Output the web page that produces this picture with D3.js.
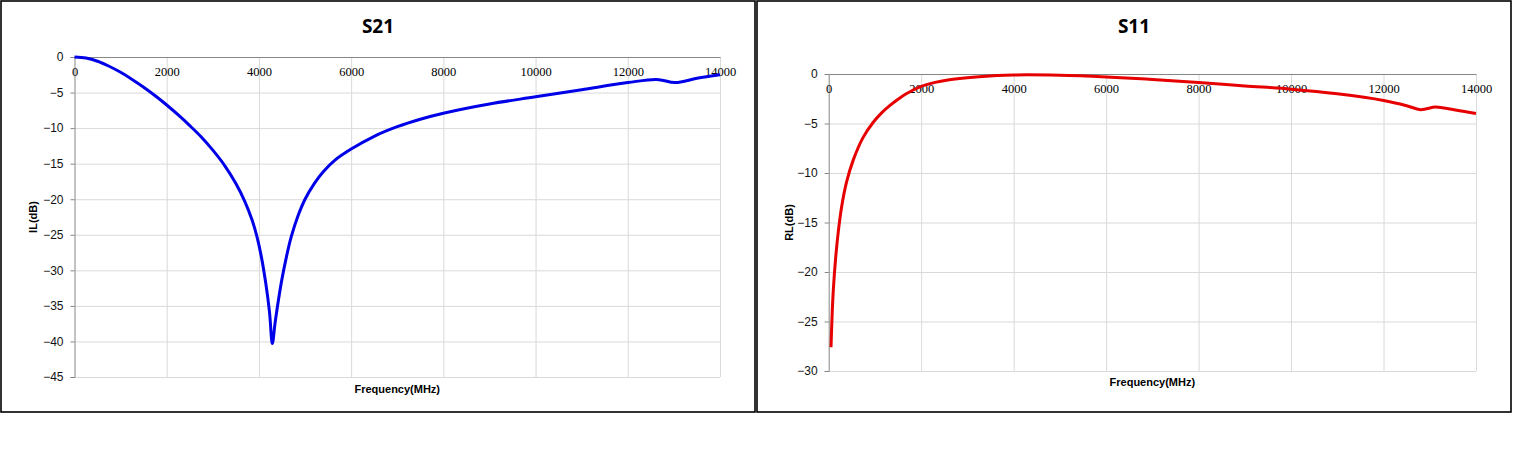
<!DOCTYPE html>
<html>
<head>
<meta charset="utf-8">
<script src="https://cdn.jsdelivr.net/npm/d3@7"></script>
<style>
  html, body { margin: 0; padding: 0; background: #fff; }
  svg { display: block; }
</style>
</head>
<body>
<svg id="chart" width="1513" height="460"></svg>
<script>
// ---- Data ----
const xTicks = [0, 2000, 4000, 6000, 8000, 10000, 12000, 14000];

const freqS21 = [0, 250, 500, 750, 1000, 1250, 1500, 1750, 2000, 2250, 2500, 2750, 3000, 3250, 3500, 3700, 3850, 3950, 4050, 4150, 4230, 4291, 4350, 4420, 4500, 4600, 4700, 4850, 5000, 5200, 5400, 5650, 6000, 6500, 7000, 7500, 8000, 9000, 10000, 11000, 12000, 12630, 13025, 13500, 14000];
const ilS21   = [0, -0.15, -0.6, -1.3, -2.15, -3.15, -4.25, -5.45, -6.75, -8.15, -9.65, -11.25, -13.1, -15.2, -17.8, -20.4, -22.9, -25.1, -28.0, -31.9, -35.9, -40.3, -37.4, -34.3, -31.2, -28.0, -25.3, -22.3, -20.0, -17.8, -16.1, -14.5, -12.95, -11.15, -9.8, -8.75, -7.9, -6.6, -5.6, -4.6, -3.6, -3.15, -3.6, -3.0, -2.5];
const yTicksS21 = [0, -5, -10, -15, -20, -25, -30, -35, -40, -45];

const freqS11 = [50, 75, 100, 150, 208, 280, 387, 530, 745, 960, 1150, 1319, 1500, 1677, 2000, 2300, 2610, 3254, 4000, 5000, 6000, 7000, 8000, 9000, 10000, 11000, 12000, 12500, 12800, 13120, 13300, 14000];
const rlS11   = [-27.6, -24.2, -21.8, -18.6, -15.9, -13.4, -10.9, -8.7, -6.4, -4.9, -3.9, -3.2, -2.55, -2.0, -1.25, -0.85, -0.57, -0.27, -0.1, -0.13, -0.3, -0.55, -0.85, -1.2, -1.53, -2.0, -2.67, -3.2, -3.6, -3.33, -3.43, -4.0];
const yTicksS11 = [0, -5, -10, -15, -20, -25, -30];

const titles = ["S21", "S11"];
const yLabels = ["IL(dB)", "RL(dB)"];
const xLabel = "Frequency(MHz)";

// ---- Layout ----
const svg = d3.select("#chart");
svg.append("rect").attr("width", 1513).attr("height", 460).attr("fill", "#fff");

const panels = [
  { px: 0, title: titles[0], ylab: yLabels[0], xs: freqS21, ys: ilS21, yTicks: yTicksS21,
    yDomain: [-45, 0], left: 74.5, right: 720, top: 57, bottom: 377, color: "#0000e8",
    yLabX: 37, xLabY: 393 },
  { px: 756, title: titles[1], ylab: yLabels[1], xs: freqS11, ys: rlS11, yTicks: yTicksS11,
    yDomain: [-30, 0], left: 828.7, right: 1476, top: 74, bottom: 371, color: "#e60000",
    yLabX: 793, xLabY: 386 }
];

panels.forEach(p => {
  // panel border
  svg.append("rect")
    .attr("x", p.px + 1).attr("y", 1).attr("width", 754).attr("height", 411)
    .attr("fill", "none").attr("stroke", "#000").attr("stroke-width", 1.6);

  const x = d3.scaleLinear().domain([0, 14000]).range([p.left, p.right]);
  const y = d3.scaleLinear().domain(p.yDomain).range([p.bottom, p.top]);
  const g = svg.append("g");

  // vertical gridlines
  g.append("g")
    .attr("transform", `translate(0,${p.bottom})`)
    .call(d3.axisBottom(x).tickValues(xTicks.filter(t => t !== 0)).tickSize(-(p.bottom - p.top)).tickFormat(""))
    .call(s => s.select(".domain").remove())
    .call(s => s.selectAll("line").attr("stroke", "#d9d9d9").attr("stroke-width", 1));

  // horizontal gridlines
  g.append("g")
    .attr("transform", `translate(${p.left},0)`)
    .call(d3.axisLeft(y).tickValues(p.yTicks.filter(t => t !== 0)).tickSize(-(p.right - p.left)).tickFormat(""))
    .call(s => s.select(".domain").remove())
    .call(s => s.selectAll("line").attr("stroke", "#d9d9d9").attr("stroke-width", 1));

  // y axis (ticks + labels)
  g.append("g")
    .attr("transform", `translate(${p.left},0)`)
    .call(d3.axisLeft(y).tickValues(p.yTicks).tickSize(4).tickPadding(7).tickFormat(d3.format("d")))
    .call(s => s.select(".domain").attr("stroke", "#868686"))
    .call(s => s.selectAll("line").attr("stroke", "#868686"))
    .call(s => s.selectAll("text")
      .attr("font-family", "'Liberation Sans', Arial, sans-serif")
      .attr("font-size", 12).attr("fill", "#111"));

  // x axis at y=0 with labels below the line
  g.append("g")
    .attr("transform", `translate(0,${y(0)})`)
    .call(d3.axisBottom(x).tickValues(xTicks).tickSize(0).tickPadding(10).tickFormat(d3.format("d")))
    .call(s => s.select(".domain").attr("stroke", "#868686"))
    .call(s => s.selectAll("text")
      .attr("font-family", "'Liberation Serif', 'DejaVu Serif', serif")
      .attr("font-size", 12.5).attr("fill", "#000"));

  // curve
  const line = d3.line()
    .x((d, i) => x(p.xs[i]))
    .y(d => y(d))
    .curve(d3.curveCatmullRom.alpha(0.5));
  g.append("path")
    .datum(p.ys)
    .attr("d", line)
    .attr("fill", "none")
    .attr("stroke", p.color)
    .attr("stroke-width", 3)
    .attr("stroke-linejoin", "round");

  // title
  svg.append("text")
    .attr("x", p.px + 378).attr("y", 33)
    .attr("text-anchor", "middle")
    .attr("font-family", "'Open Sans', 'Liberation Sans', sans-serif")
    .attr("font-weight", "bold").attr("font-size", 19).attr("fill", "#000")
    .text(p.title);

  // x label
  svg.append("text")
    .attr("x", (p.left + p.right) / 2).attr("y", p.xLabY)
    .attr("text-anchor", "middle")
    .attr("font-family", "'Liberation Sans', Arial, sans-serif")
    .attr("font-weight", "bold").attr("font-size", 11).attr("fill", "#000")
    .text(xLabel);

  // y label
  svg.append("text")
    .attr("transform", `translate(${p.yLabX},${(p.top + p.bottom) / 2}) rotate(-90)`)
    .attr("text-anchor", "middle")
    .attr("font-family", "'Liberation Sans', Arial, sans-serif")
    .attr("font-weight", "bold").attr("font-size", 11).attr("fill", "#000")
    .text(p.ylab);
});
</script>
</body>
</html>
